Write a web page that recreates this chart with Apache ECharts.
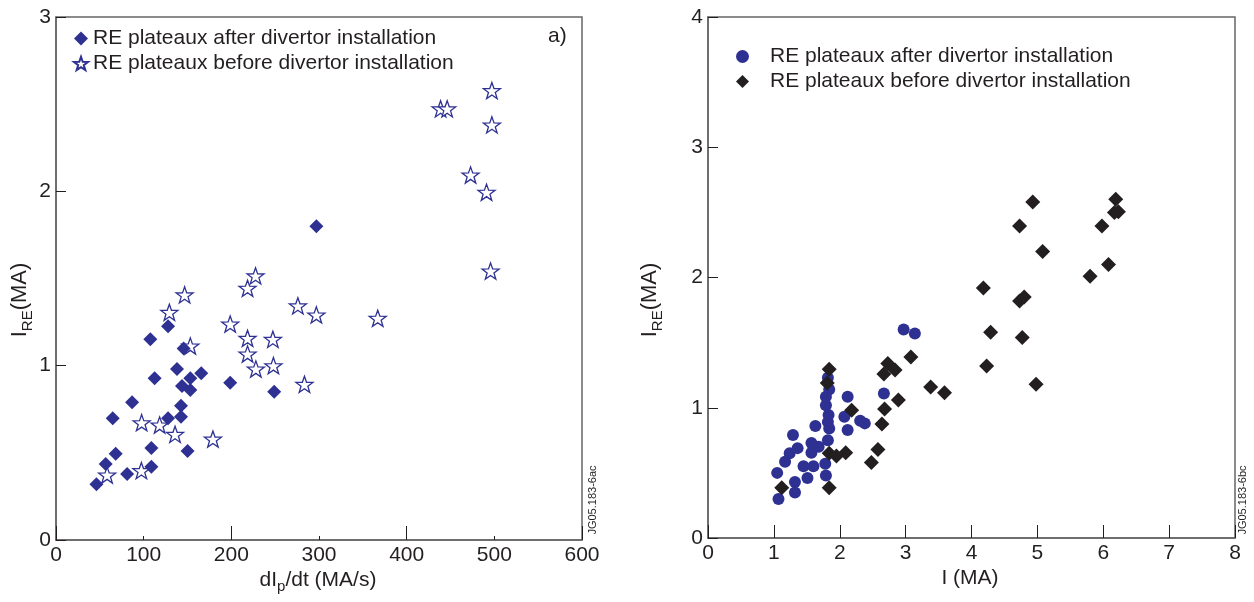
<!DOCTYPE html>
<html>
<head>
<meta charset="utf-8">
<script src="https://cdn.jsdelivr.net/npm/echarts@6/dist/echarts.min.js"></script>
<style>
html,body{margin:0;padding:0;background:#fff;}
#c{width:1254px;height:602px;}
</style>
</head>
<body>
<div id="c"></div>
<script>
// ---- Data: panel a) dIp/dt (MA/s) vs I_RE (MA)
const leftAfter = [
  [127.8,1.226],[107.6,1.151],[145.6,1.098],[138,0.981],[165.7,0.956],[112.5,0.928],
  [153.2,0.928],[143.7,0.884],[153.2,0.861],[198.7,0.902],[86.8,0.79],[142.6,0.77],
  [64.7,0.698],[127.8,0.698],[142.6,0.707],[108.8,0.528],[150.1,0.511],[68.1,0.495],
  [56.7,0.436],[108.8,0.42],[81.1,0.379],[46.1,0.32],[297,1.80],[248.9,0.851]
];
const leftBefore = [
  [146.7,1.406],[129.3,1.306],[153.2,1.113],[198.7,1.239],[97.7,0.673],[118.2,0.66],
  [135.8,0.606],[179,0.579],[97.4,0.398],[58.3,0.373],[227.6,1.515],[218.5,1.444],
  [275.9,1.343],[297,1.291],[367,1.272],[218.5,1.157],[247.4,1.151],[218.5,1.067],
  [228,0.981],[248,1.0],[283.4,0.893],[497.2,2.578],[438.7,2.473],[446.2,2.473],
  [497.2,2.381],[472.9,2.094],[491.1,1.995],[495.7,1.543]
];
// ---- Data: panel b) I (MA) vs I_RE (MA)
const rightAfter = [
  [2.97,1.60],[3.14,1.57],[2.67,1.11],[2.12,1.085],[1.82,1.23],[1.84,1.14],[1.79,1.085],
  [1.79,1.02],[1.83,0.945],[1.82,0.89],[1.84,0.84],[2.07,0.93],[2.31,0.90],[2.38,0.88],
  [2.12,0.83],[1.63,0.86],[1.29,0.79],[1.82,0.75],[1.36,0.69],[1.24,0.65],[1.57,0.73],
  [1.68,0.70],[1.57,0.655],[1.17,0.585],[1.78,0.57],[1.45,0.55],[1.60,0.55],[1.51,0.46],
  [1.79,0.48],[1.05,0.50],[1.32,0.43],[1.32,0.35],[1.07,0.30]
];
const rightBefore = [
  [1.84,1.295],[1.81,1.19],[2.18,0.98],[2.73,1.34],[2.84,1.29],[2.67,1.26],[3.08,1.39],
  [3.38,1.16],[2.89,1.06],[2.68,0.99],[2.64,0.875],[2.58,0.68],[2.48,0.58],[1.84,0.65],
  [1.95,0.63],[2.09,0.655],[1.84,0.385],[1.12,0.385],[4.93,2.58],[6.19,2.60],[6.23,2.505],
  [6.17,2.50],[4.73,2.395],[5.98,2.395],[5.08,2.20],[6.08,2.10],[5.80,2.01],[4.18,1.92],
  [4.80,1.85],[4.73,1.82],[4.29,1.58],[4.77,1.54],[4.23,1.32],[4.98,1.18],[3.59,1.115]
];
const labelAfter = 'RE plateaux after divertor installation';
const labelBefore = 'RE plateaux before divertor installation';
const leftXTicks = {min:0, max:600, interval:100};
const rightXTicks = {min:0, max:8, interval:1};
const leftYTicks = {min:0, max:3, interval:1};
const rightYTicks = {min:0, max:4, interval:1};

const NAVY = '#2e3192';
const BLACK = '#231f20';
const AX = '#666666';
const FONT = '"Liberation Sans", Arial, sans-serif';
const STAR = 'path://M50 0 L61.76 33.82 L97.55 34.55 L69.02 56.18 L79.39 90.45 L50 70 L20.61 90.45 L30.98 56.18 L2.45 34.55 L38.24 33.82 Z';

const nameMap = {la: labelAfter, lb: labelBefore, ra: labelAfter, rb: labelBefore};

const chart = echarts.init(document.getElementById('c'), null, {renderer:'canvas'});

function xAxisBase(gi, t, tickLen, showLabel, showLine){
  return {
    type:'value', gridIndex:gi, min:t.min, max:t.max, interval:t.interval, position:'bottom',
    axisLine:{show:showLine, onZero:false, lineStyle:{color:AX, width:1.5}},
    axisTick:{show:true, inside:true, length:tickLen, lineStyle:{color:BLACK, width:1}},
    axisLabel:{show:showLabel, fontSize:21, color:BLACK, fontFamily:FONT, margin:5},
    splitLine:{show:false}
  };
}
function yAxisBase(gi, t){
  return {
    type:'value', gridIndex:gi, min:t.min, max:t.max, interval:t.interval,
    axisLine:{show:true, onZero:false, lineStyle:{color:AX, width:1.5}},
    axisTick:{show:true, inside:true, length:10, lineStyle:{color:BLACK, width:1}},
    axisLabel:{fontSize:21, color:BLACK, fontFamily:FONT, margin:5},
    splitLine:{show:false}
  };
}

const option = {
  animation:false,
  backgroundColor:'#fff',
  textStyle:{fontFamily:FONT},
  grid:[
    {left:56, right:672, top:17, bottom:62, show:true, borderColor:AX, borderWidth:1.5, backgroundColor:'transparent'},
    {left:708, right:19, top:17, bottom:64, show:true, borderColor:AX, borderWidth:1.5, backgroundColor:'transparent'}
  ],
  xAxis:[
    xAxisBase(0, leftXTicks, 4, true, true),
    xAxisBase(0, {min:leftXTicks.min, max:leftXTicks.max, interval:200}, 14, false, false),
    xAxisBase(1, rightXTicks, 13, true, true)
  ],
  yAxis:[ yAxisBase(0, leftYTicks), yAxisBase(1, rightYTicks) ],
  legend:[
    {
      left:68, top:23, orient:'vertical', itemWidth:14, itemHeight:14, itemGap:4,
      data:['la','lb'], formatter:n=>nameMap[n], selectedMode:false,
      textStyle:{fontSize:21, lineHeight:21, color:BLACK, fontFamily:FONT, padding:[0,0,0,0]}
    },
    {
      left:731, top:41, orient:'vertical', itemWidth:13, itemHeight:13, itemGap:4,
      data:['ra','rb'], formatter:n=>nameMap[n], selectedMode:false,
      textStyle:{fontSize:21, lineHeight:21, color:BLACK, fontFamily:FONT, padding:[0,0,0,16]}
    }
  ],
  series:[
    {name:'la', type:'scatter', xAxisIndex:0, yAxisIndex:0, data:leftAfter, symbol:'diamond', symbolSize:14,
     itemStyle:{color:NAVY, opacity:1}, z:3},
    {name:'lb', type:'scatter', xAxisIndex:0, yAxisIndex:0, data:leftBefore, symbol:STAR, symbolSize:17, symbolKeepAspect:true,
     itemStyle:{color:'#ffffff', borderColor:NAVY, borderWidth:1.3, opacity:1}, z:2},
    {name:'ra', type:'scatter', xAxisIndex:2, yAxisIndex:1, data:rightAfter, symbol:'circle', symbolSize:12,
     itemStyle:{color:NAVY, opacity:1}, z:2},
    {name:'rb', type:'scatter', xAxisIndex:2, yAxisIndex:1, data:rightBefore, symbol:'diamond', symbolSize:15,
     itemStyle:{color:BLACK, opacity:1}, z:3}
  ],
  graphic:[
    {type:'text', x:20, y:300, rotation:Math.PI/2, style:{
      text:'{a|I}{b|RE}{a|(MA)}', align:'center', verticalAlign:'middle', fill:BLACK,
      rich:{a:{fontSize:22, lineHeight:30, fontFamily:FONT, fill:BLACK}, b:{fontSize:15, lineHeight:15, verticalAlign:'bottom', fontFamily:FONT, fill:BLACK}}
    }},
    {type:'text', x:650, y:300, rotation:Math.PI/2, style:{
      text:'{a|I}{b|RE}{a|(MA)}', align:'center', verticalAlign:'middle', fill:BLACK,
      rich:{a:{fontSize:22, lineHeight:30, fontFamily:FONT, fill:BLACK}, b:{fontSize:15, lineHeight:15, verticalAlign:'bottom', fontFamily:FONT, fill:BLACK}}
    }},
    {type:'text', x:318, y:580, style:{
      text:'{a|dI}{b|p}{a|/dt (MA/s)}', align:'center', verticalAlign:'middle', fill:BLACK,
      rich:{a:{fontSize:21, lineHeight:28, fontFamily:FONT, fill:BLACK}, b:{fontSize:15, lineHeight:15, verticalAlign:'bottom', fontFamily:FONT, fill:BLACK}}
    }},
    {type:'text', x:970, y:578, style:{text:'I (MA)', align:'center', verticalAlign:'middle', fontSize:21, fontFamily:FONT, fill:BLACK}},
    {type:'text', x:548, y:36, style:{text:'a)', align:'left', verticalAlign:'middle', fontSize:21, fontFamily:FONT, fill:BLACK}},
    {type:'text', x:593, y:500, rotation:Math.PI/2, style:{text:'JG05.183-6ac', align:'center', verticalAlign:'middle', fontSize:11, fontFamily:FONT, fill:BLACK}},
    {type:'text', x:1243, y:500, rotation:Math.PI/2, style:{text:'JG05.183-6bc', align:'center', verticalAlign:'middle', fontSize:11, fontFamily:FONT, fill:BLACK}}
  ]
};
chart.setOption(option);
</script>
</body>
</html>
